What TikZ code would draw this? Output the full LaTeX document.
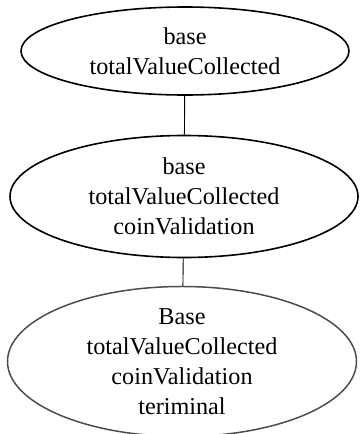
\documentclass[tikz,border=0pt]{standalone}
\usepackage{fontspec}
\setmainfont{Liberation Serif}
\usetikzlibrary{shapes.geometric}
\begin{document}
\begin{tikzpicture}[x=1pt,y=-1pt,
  stateA/.style={ellipse,draw=black,line width=1.6pt,inner sep=0pt,align=center,
    font=\fontsize{24.2}{30}\selectfont},
  stateB/.style={ellipse,draw=black!70,line width=1.5pt,inner sep=0pt,align=center,
    font=\fontsize{24.2}{30}\selectfont},
  link/.style={draw=black,line width=0.9pt}]
\useasboundingbox (0,0) rectangle (359,434);
\node[stateA,minimum width=328,minimum height=88] (n1) at (185,51) {base\\totalValueCollected};
\node[stateA,minimum width=348,minimum height=122] (n2) at (184,196.5) {base\\totalValueCollected\\coinValidation};
\node[stateB,minimum width=349,minimum height=127] (n3) at (182,361.5) {Base\\totalValueCollected\\coinValidation\\teriminal};
\draw[link] (n1) -- (n2);
\draw[link] (n2) -- (n3);
\end{tikzpicture}
\end{document}
